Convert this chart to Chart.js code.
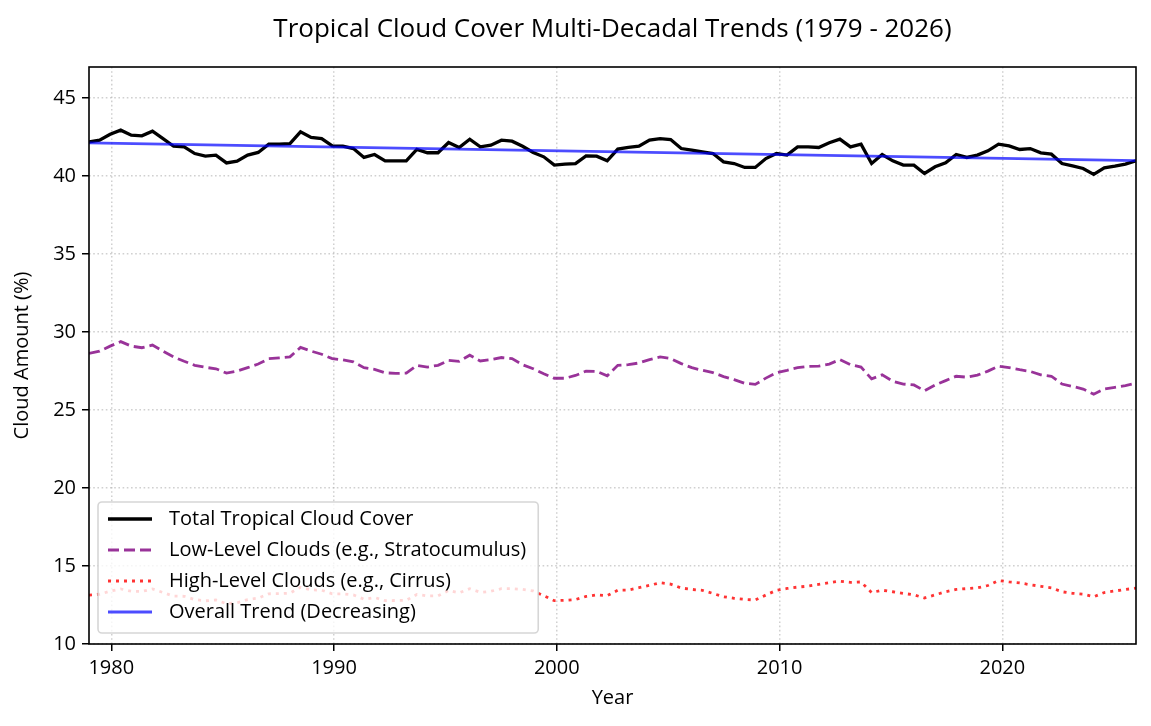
<!DOCTYPE html>
<html>
<head>
<meta charset="utf-8">
<title>Tropical Cloud Cover Multi-Decadal Trends</title>
<script src="https://cdn.jsdelivr.net/npm/chart.js@4.4.0/dist/chart.umd.min.js"></script>
<style>
  html, body { margin: 0; padding: 0; background: #fff; }
  #wrap { width: 1151px; height: 726px; position: relative; }
</style>
</head>
<body>
<div id="wrap"><canvas id="cloudChart"></canvas></div>
<script>
// sample times: 100 evenly spaced steps from 1979 to 2026
var firstYear = 1979;
var lastYear = 2026;
var sampleCount = 100;
var sampleYears = [];
for (var i = 0; i < sampleCount; i++) {
  sampleYears.push(firstYear + i * (lastYear - firstYear) / (sampleCount - 1));
}

var totalCover = [
  42.20, 42.31, 42.69, 42.95, 42.63, 42.59, 42.88, 42.41, 41.92, 41.88,
  41.45, 41.28, 41.35, 40.85, 40.96, 41.35, 41.52, 42.05, 42.05, 42.09,
  42.84, 42.48, 42.41, 41.94, 41.92, 41.77, 41.20, 41.39, 40.98, 40.98,
  40.98, 41.71, 41.50, 41.50, 42.16, 41.84, 42.37, 41.88, 41.99, 42.31,
  42.24, 41.92, 41.52, 41.24, 40.71, 40.77, 40.81, 41.30, 41.28, 40.98,
  41.74, 41.84, 41.92, 42.31, 42.41, 42.35, 41.77, 41.67, 41.56, 41.45,
  40.92, 40.81, 40.56, 40.56, 41.13, 41.45, 41.35, 41.88, 41.88, 41.84,
  42.14, 42.37, 41.88, 42.05, 40.81, 41.39, 40.98, 40.71, 40.71, 40.17,
  40.60, 40.85, 41.39, 41.20, 41.35, 41.62, 42.05, 41.94, 41.71, 41.77,
  41.50, 41.41, 40.81, 40.66, 40.49, 40.11, 40.53, 40.64, 40.77, 40.98
];

var lowClouds = [
  28.63, 28.78, 29.10, 29.39, 29.10, 29.00, 29.17, 28.78, 28.41, 28.13,
  27.87, 27.74, 27.65, 27.37, 27.50, 27.72, 27.95, 28.30, 28.35, 28.41,
  29.02, 28.78, 28.58, 28.30, 28.22, 28.09, 27.72, 27.61, 27.39, 27.35,
  27.37, 27.87, 27.76, 27.87, 28.19, 28.13, 28.52, 28.15, 28.24, 28.37,
  28.30, 27.91, 27.65, 27.33, 27.04, 27.04, 27.22, 27.50, 27.48, 27.20,
  27.87, 27.91, 28.02, 28.24, 28.41, 28.30, 27.98, 27.72, 27.55, 27.40,
  27.15, 26.95, 26.72, 26.65, 27.05, 27.40, 27.55, 27.72, 27.80, 27.82,
  27.95, 28.24, 27.91, 27.76, 27.00, 27.26, 26.85, 26.67, 26.61, 26.24,
  26.61, 26.89, 27.17, 27.11, 27.24, 27.50, 27.82, 27.72, 27.59, 27.48,
  27.26, 27.17, 26.67, 26.52, 26.35, 26.02, 26.35, 26.46, 26.57, 26.72
];

var highClouds = [
  13.13, 13.19, 13.39, 13.53, 13.38, 13.37, 13.53, 13.30, 13.07, 13.06,
  12.85, 12.77, 12.82, 12.58, 12.64, 12.85, 12.94, 13.22, 13.23, 13.26,
  13.64, 13.47, 13.45, 13.22, 13.22, 13.15, 12.87, 12.98, 12.78, 12.79,
  12.80, 13.18, 13.08, 13.09, 13.43, 13.28, 13.55, 13.31, 13.38, 13.55,
  13.55, 13.50, 13.40, 13.10, 12.78, 12.80, 12.85, 13.05, 13.15, 13.10,
  13.45, 13.46, 13.61, 13.76, 13.93, 13.84, 13.59, 13.50, 13.44, 13.24,
  13.03, 12.93, 12.86, 12.82, 13.14, 13.44, 13.56, 13.65, 13.71, 13.82,
  13.93, 14.03, 13.95, 13.98, 13.30, 13.45, 13.35, 13.25, 13.15, 12.95,
  13.15, 13.35, 13.50, 13.55, 13.60, 13.75, 14.07, 13.98, 13.92, 13.80,
  13.70, 13.60, 13.35, 13.25, 13.20, 13.03, 13.30, 13.40, 13.50, 13.58
];

// fitted trend, read at both ends of the axis
var trendYears = [1979, 2026];
var trendValues = [42.13, 41.00];

var seriesLabels = [
  'Total Tropical Cloud Cover',
  'Low-Level Clouds (e.g., Stratocumulus)',
  'High-Level Clouds (e.g., Cirrus)',
  'Overall Trend (Decreasing)'
];

function toPoints(xs, ys) {
  return ys.map(function (v, k) { return { x: xs[k], y: v }; });
}

var FONT = '"Open Sans", "DejaVu Sans", sans-serif';
Chart.defaults.font.family = FONT;
Chart.defaults.color = '#000';

// black box around the plot area (matplotlib spines)
var framePlugin = {
  id: 'frame',
  afterDatasetsDraw: function (chart) {
    var ctx = chart.ctx, a = chart.chartArea;
    ctx.save();
    ctx.strokeStyle = '#000';
    ctx.lineWidth = 1.6;
    ctx.strokeRect(a.left, a.top, a.right - a.left, a.bottom - a.top);
    ctx.restore();
  }
};

function roundedBox(ctx, x, y, w, h, r) {
  ctx.beginPath();
  ctx.moveTo(x + r, y);
  ctx.arcTo(x + w, y, x + w, y + h, r);
  ctx.arcTo(x + w, y + h, x, y + h, r);
  ctx.arcTo(x, y + h, x, y, r);
  ctx.arcTo(x, y, x + w, y, r);
  ctx.closePath();
}

// legend inside the lower left corner of the plot
var insideLegend = {
  id: 'insideLegend',
  afterDatasetsDraw: function (chart) {
    var ctx = chart.ctx, a = chart.chartArea;
    var sets = chart.data.datasets;
    ctx.save();
    ctx.font = '20px ' + FONT;
    var maxW = 0;
    sets.forEach(function (d) { maxW = Math.max(maxW, ctx.measureText(d.label).width); });
    var h = 131;
    var x0 = a.left + 9;
    var y0 = a.bottom - 11 - h;
    var w = 71 + maxW + 12;
    roundedBox(ctx, x0, y0, w, h, 4);
    ctx.fillStyle = 'rgba(255,255,255,0.8)';
    ctx.fill();
    ctx.strokeStyle = 'rgba(204,204,204,0.8)';
    ctx.lineWidth = 1.6;
    ctx.stroke();
    sets.forEach(function (d, k) {
      var y = y0 + 17 + k * 31;
      ctx.beginPath();
      ctx.setLineDash(d.borderDash || []);
      ctx.strokeStyle = d.borderColor;
      ctx.lineWidth = d.borderWidth;
      ctx.moveTo(x0 + 10, y);
      ctx.lineTo(x0 + 54, y);
      ctx.stroke();
      ctx.setLineDash([]);
      ctx.fillStyle = '#000';
      ctx.textBaseline = 'middle';
      ctx.textAlign = 'left';
      ctx.fillText(d.label, x0 + 71, y);
    });
    ctx.restore();
  }
};

var gridStyle = {
  color: 'rgba(176,176,176,0.6)',
  lineWidth: 1.5,
  tickLength: 7,
  tickColor: '#000',
  tickWidth: 1.5,
  tickBorderDash: []
};

var ctx = document.getElementById('cloudChart').getContext('2d');
var cloudChart = new Chart(ctx, {
  type: 'line',
  data: {
    datasets: [{
      label: seriesLabels[0],
      data: toPoints(sampleYears, totalCover),
      borderColor: '#000',
      borderWidth: 3.3,
      order: 1
    }, {
      label: seriesLabels[1],
      data: toPoints(sampleYears, lowClouds),
      borderColor: 'rgba(128,0,128,0.8)',
      borderWidth: 2.8,
      borderDash: [11, 5],
      order: 2
    }, {
      label: seriesLabels[2],
      data: toPoints(sampleYears, highClouds),
      borderColor: 'rgba(255,0,0,0.8)',
      borderWidth: 2.8,
      borderDash: [3, 5],
      order: 3
    }, {
      label: seriesLabels[3],
      data: toPoints(trendYears, trendValues),
      borderColor: 'rgba(0,0,255,0.7)',
      borderWidth: 2.8,
      order: 0
    }]
  },
  options: {
    responsive: true,
    maintainAspectRatio: false,
    animation: false,
    elements: {
      point: { radius: 0, hoverRadius: 0 },
      line: { tension: 0, fill: false, borderCapStyle: 'butt' }
    },
    layout: { padding: { left: 0, right: 15, top: 0, bottom: 0 } },
    plugins: {
      legend: { display: false },
      tooltip: { enabled: false },
      title: {
        display: true,
        text: 'Tropical Cloud Cover Multi-Decadal Trends (1979 - 2026)',
        fullSize: false,
        color: '#000',
        font: { size: 26, weight: 'normal', family: FONT },
        padding: { top: 14.4, bottom: 21.4 }
      }
    },
    scales: {
      x: {
        type: 'linear',
        min: 1979,
        max: 2026,
        grid: gridStyle,
        border: { display: false, dash: [1.6, 2.6] },
        ticks: {
          stepSize: 10,
          includeBounds: false,
          padding: 5,
          font: { size: 20 },
          color: '#000',
          callback: function (v) { return String(v); }
        },
        title: {
          display: true,
          text: 'Year',
          color: '#000',
          font: { size: 20 },
          padding: { top: 0, bottom: 16 }
        },
        afterFit: function (s) { s.height = 82; }
      },
      y: {
        type: 'linear',
        min: 10,
        max: 47,
        grid: gridStyle,
        border: { display: false, dash: [1.6, 2.6] },
        ticks: {
          stepSize: 5,
          includeBounds: false,
          padding: 6,
          font: { size: 20 },
          color: '#000'
        },
        title: {
          display: true,
          text: 'Cloud Amount (%)',
          color: '#000',
          font: { size: 20 },
          padding: { top: 10, bottom: 0 }
        },
        afterFit: function (s) { s.width = 89; }
      }
    }
  },
  plugins: [framePlugin, insideLegend]
});
</script>
</body>
</html>
